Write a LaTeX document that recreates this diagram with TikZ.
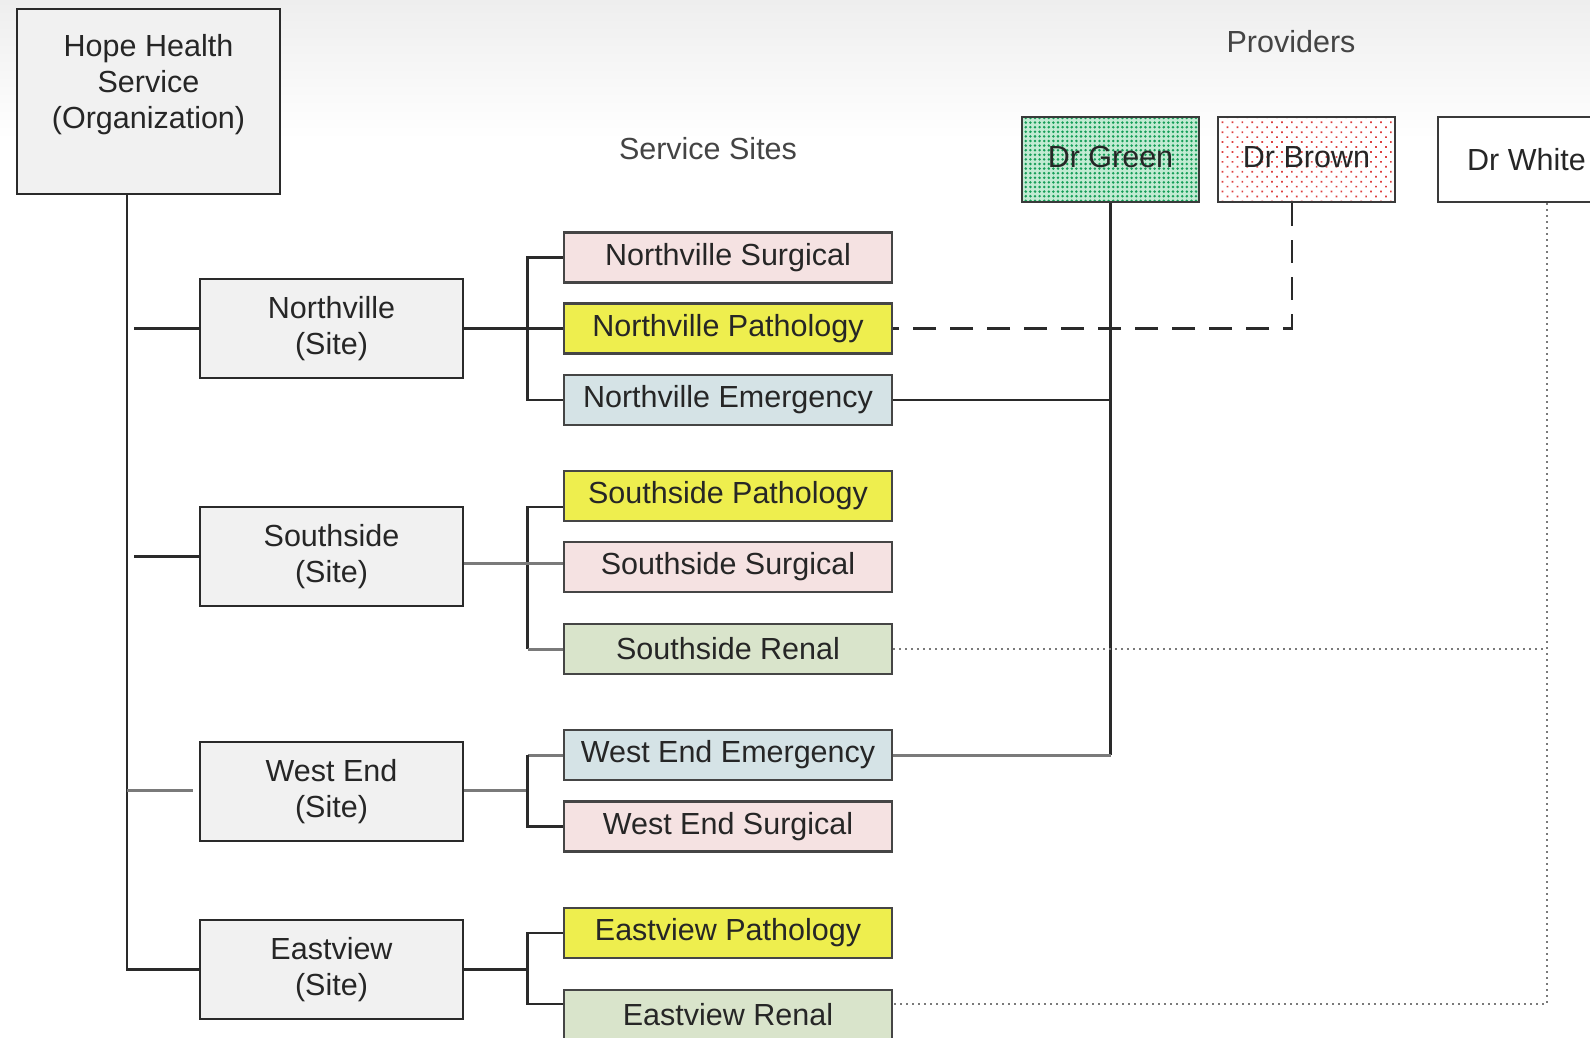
\documentclass[tikz,border=0pt]{standalone}
\usepackage{fontspec}
\setmainfont{Liberation Sans}
\usetikzlibrary{patterns.meta,calc}
\definecolor{ink}{HTML}{2A2A2A}
\definecolor{txt}{HTML}{262626}
\definecolor{lbl}{HTML}{444444}
\definecolor{grayfill}{HTML}{F1F1F1}
\definecolor{surgfill}{HTML}{F5E2E2}
\definecolor{pathfill}{HTML}{EEEE4E}
\definecolor{emerfill}{HTML}{D5E3E6}
\definecolor{renfill}{HTML}{D9E4CB}
\definecolor{greendot}{HTML}{159E58}
\definecolor{greenbg}{HTML}{C2EBD3}
\definecolor{reddot}{HTML}{DD4040}
\definecolor{lgray}{HTML}{7A7A7A}
\definecolor{bgtop}{HTML}{EEEEEE}
\definecolor{svcedge}{HTML}{454545}
\definecolor{provedge}{HTML}{3A3A3A}
\begin{document}
\begin{tikzpicture}[x=1pt,y=-1pt,
  basefont/.style={font=\fontsize{30.5}{36}\selectfont},
  box/.style={draw=ink, line width=2.8pt, text=txt, align=center, basefont, inner sep=0pt},
  orgbox/.style={box, fill=grayfill, minimum width=263pt, minimum height=185pt},
  sitebox/.style={box, fill=grayfill, minimum width=263pt, minimum height=99pt},
  svcbox/.style={box, draw=svcedge, minimum width=328pt, minimum height=50pt},
  surg/.style={svcbox, fill=surgfill},
  path/.style={svcbox, fill=pathfill},
  emer/.style={svcbox, fill=emerfill},
  renal/.style={svcbox, fill=renfill},
  provbox/.style={box, draw=provedge, minimum width=177pt, minimum height=85pt},
  txtnode/.style={text=txt, align=center, basefont, inner sep=0pt},
  heading/.style={text=lbl, basefont, inner sep=0pt},
  conn/.style={draw=ink, line width=2.6pt},
  grayconn/.style={draw=lgray, line width=3pt},
  dashconn/.style={draw=ink, line width=2.6pt, dash pattern=on 23pt off 14pt},
  dotconn/.style={draw=lgray, line width=1.8pt, dash pattern=on 1.8pt off 4.2pt},
]
\useasboundingbox (0,0) rectangle (1590,1038);
\clip (0,0) rectangle (1590,1038);
\shade[top color=bgtop, bottom color=white] (0,0) rectangle (1590,140);

% headings
\node[heading] (provlbl) at (1291,42) {Providers};
\node[heading] (sslbl) at (708,149) {Service Sites};

% organization
\node[orgbox] (hope) at (148.5,101.5) {};
\node[txtnode] (hopetxt) at (148.5,85) {Hope Health\\Service\\(Organization)};

% sites
\node[sitebox] (nv) at (331.5,328.5) {Northville\\(Site)};
\node[sitebox] (sside) at (331.5,556.5) {Southside\\(Site)};
\node[sitebox] (wend) at (331.5,791.5) {West End\\(Site)};
\node[sitebox] (ev) at (331.5,969.5) {Eastview\\(Site)};

% service sites
\node[surg]  (ns)  at (728,257.5) {Northville Surgical};
\node[path]  (np)  at (728,328.5) {Northville Pathology};
\node[emer]  (ne)  at (728,400) {Northville Emergency};
\node[path]  (sp)  at (728,496) {Southside Pathology};
\node[surg]  (ssu) at (728,567) {Southside Surgical};
\node[renal] (sr)  at (728,649) {Southside Renal};
\node[emer]  (we)  at (728,755) {West End Emergency};
\node[surg]  (ws)  at (728,826.5) {West End Surgical};
\node[path]  (ep)  at (728,933) {Eastview Pathology};
\node[renal] (er)  at (728,1015) {Eastview Renal};

% providers
\node[provbox, preaction={fill=greenbg}, pattern={Dots[radius=1.4pt,distance=4.6pt]}, pattern color=greendot] (green) at (1110.5,159.5) {};
\node[txtnode] (greentxt) at (1110.5,157) {Dr Green};
\node[provbox, preaction={fill=white}, pattern={Dots[radius=1.2pt,distance=7pt,angle=45]}, pattern color=reddot] (brown) at (1306.5,159.5) {};
\node[txtnode] (browntxt) at (1306.5,157) {Dr Brown};
\node[provbox, fill=white] (white) at (1526.5,159.5) {Dr White};

% coordinates
\coordinate (trunktop) at ($(hope.south)+(-21.5,0)$);
\coordinate (bx) at (527.5,0);
\coordinate (nvstub) at (134,328.5);
\coordinate (ssstub) at (134,556.5);
\coordinate (westub) at (193,790);
\coordinate (erin) at ($(er.west)+(0,-11)$);
\coordinate (erout) at ($(er.east)+(0,-11)$);
\coordinate (spin) at ($(sp.west)+(0,11)$);
\coordinate (brownout) at ($(brown.south)+(-14.5,0)$);
\coordinate (whiteout) at ($(white.south)+(20.5,0)$);

% trunk
\draw[conn] (trunktop) |- (ev.west);
\draw[conn] (nvstub) -- (nv.west);
\draw[conn] (ssstub) -- (sside.west);
\draw[grayconn] (westub -| trunktop) -- (westub);

% Northville
\draw[conn] (ns.west) -- (ns.west -| bx) -- (ne.west -| bx) -- (ne.west);
\draw[conn] (nv.east) -- (np.west);

% Southside
\draw[conn] (spin) -- (spin -| bx) -- (sr.west -| bx);
\draw[grayconn] (sr.west -| bx) -- (sr.west);
\draw[grayconn] ($(sside.east)+(0,6.5)$) -- ($(ssu.west)+(0,-4)$);

% West End
\draw[grayconn] (wend.east |- westub) -- (westub -| bx);
\draw[grayconn] (we.west -| bx) -- (we.west);
\draw[conn] (we.west -| bx) -- (ws.west -| bx) -- (ws.west);

% Eastview
\draw[conn] (ep.west) -- (ep.west -| bx) -- (erin -| bx) -- (erin);
\draw[conn] (ev.east) -- (ev.east -| bx);

% Dr Green
\draw[conn] (green.south) -- (we.east -| green.south);
\draw[conn] (ne.east) -- (ne.east -| green.south);
\draw[grayconn] (we.east) -- (we.east -| green.south);

% Dr Brown
\draw[dashconn] (brownout) |- (np.east);

% Dr White
\draw[dotconn] (whiteout) |- (erout);
\draw[dotconn] (sr.east) -- (sr.east -| whiteout);
\end{tikzpicture}
\end{document}
